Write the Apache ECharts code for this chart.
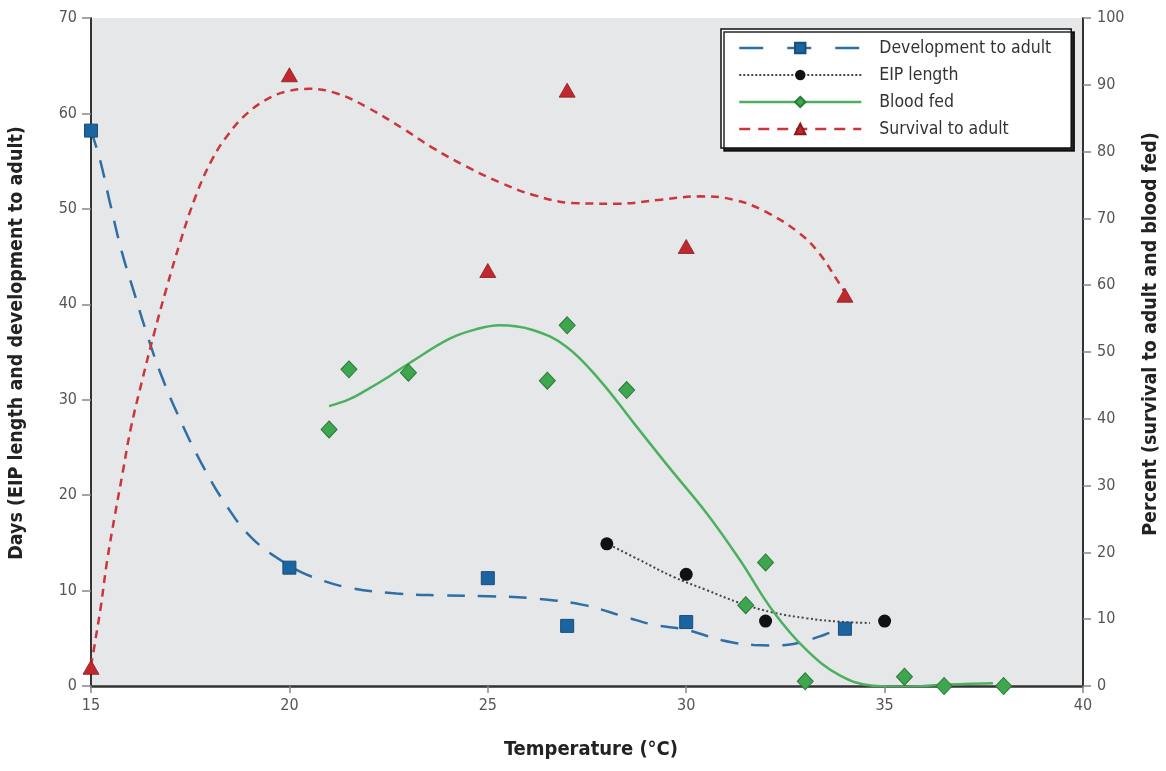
<!DOCTYPE html>
<html>
<head>
<meta charset="utf-8">
<script src="https://cdn.jsdelivr.net/npm/echarts@6/dist/echarts.min.js"></script>
<style>
html,body{margin:0;padding:0;background:#ffffff;}
#chart{width:1166px;height:771px;}
</style>
</head>
<body>
<div id="chart"></div>
<script>
// ---- Data ----
const xTicks = [15, 20, 25, 30, 35, 40];

// Measured points: [temperature °C, value]
const devPoints = [[15, 58.2], [20, 12.4], [25, 11.3], [27, 6.3], [30, 6.7], [34, 6.0]];           // days
const eipPoints = [[28, 14.9], [30, 11.7], [32, 6.8], [35, 6.8]];                                   // days
const bloodPoints = [[21, 38.4], [21.5, 47.4], [23, 46.9], [26.5, 45.7], [27, 54.0], [28.5, 44.3],
                     [31.5, 12.1], [32, 18.5], [33, 0.7], [35.5, 1.4], [36.5, 0], [38, 0]];           // percent
const survPoints = [[15, 2.8], [20, 91.5], [25, 62.2], [27, 89.2], [30, 65.8], [34, 58.5]];         // percent

// Fitted trend curves
const devCurve = [[15.0, 58.2], [15.23, 55.1], [15.48, 50.6], [15.77, 45.6], [16.06, 41.6], [16.4, 37.0],
  [16.74, 32.9], [17.17, 28.6], [17.75, 23.6], [18.43, 18.8], [19.08, 15.4], [20.0, 12.6], [20.6, 11.4],
  [21.5, 10.3], [22.7, 9.7], [23.8, 9.5], [25.0, 9.4], [26.1, 9.2], [27.4, 8.5], [28.5, 7.2], [29.2, 6.4],
  [30.0, 5.9], [30.9, 4.8], [31.7, 4.3], [32.3, 4.25], [32.9, 4.6], [33.5, 5.4], [34.0, 6.2]];
const eipCurve = [[28.06, 14.8], [28.83, 13.2], [29.67, 11.45], [30.51, 10.06], [31.35, 8.7], [32.19, 7.7],
  [33.03, 7.1], [33.87, 6.74], [34.63, 6.6]];
const bloodCurve = [[21.0, 41.9], [21.5, 42.9], [21.94, 44.3], [22.5, 46.3], [23.04, 48.4], [24.04, 52.0],
  [24.7, 53.4], [25.3, 54.0], [26.13, 53.3], [26.98, 50.8], [27.82, 45.8], [28.7, 39.2], [29.6, 32.5],
  [30.51, 25.9], [31.35, 18.9], [32.19, 11.2], [33.03, 5.4], [33.87, 1.6], [34.71, 0.05], [35.55, -0.1],
  [36.39, 0.15], [37.0, 0.3], [37.73, 0.4]];
const survCurve = [[15.0, 3.0], [15.1, 6.5], [15.25, 12], [15.4, 18.5], [15.6, 25.5], [15.8, 32], [16.0, 38.5],
  [16.3, 46], [16.6, 53], [16.9, 59.5], [17.25, 66.5], [17.65, 73.5], [18.05, 78.8], [18.45, 82.5],
  [18.95, 85.8], [19.55, 88.2], [20.0, 89.1], [20.5, 89.4], [21.2, 88.7], [22.0, 86.5], [22.9, 83.3],
  [23.6, 80.6], [24.45, 77.8], [25.3, 75.4], [26.15, 73.5], [27.15, 72.3], [28.25, 72.2], [29.35, 72.8],
  [30.35, 73.3], [31.2, 72.8], [32.0, 71.0], [32.85, 67.8], [33.35, 64.8], [33.8, 60.8], [34.05, 58.5]];

const names = ['Development to adult', 'EIP length', 'Blood fed', 'Survival to adult'];

// ---- Styles ----
const FONT = '"DejaVu Sans Condensed", "Liberation Sans Narrow", "Liberation Sans", Arial, sans-serif';
const BLUE = '#2f6fa6', BLUE_FILL = '#1c64a0';
const RED = '#c9363c', RED_FILL = '#c0282e';
const GREEN = '#4cb060', GREEN_FILL = '#3ea64f';
const BLACK = '#111111';

const chart = echarts.init(document.getElementById('chart'), null, {renderer: 'canvas'});

const labelStyle = {color: '#555', fontSize: 16, fontFamily: FONT};
const nameStyle = {color: '#222', fontSize: 19.5, fontWeight: 'bold', fontFamily: FONT};

chart.setOption({
  backgroundColor: '#ffffff',
  animation: false,
  grid: {left: 91, right: 83, top: 18, bottom: 85, containLabel: false, outerBoundsMode: 'none',
         show: true, backgroundColor: '#e6e7e9', borderWidth: 0},
  legend: {
    orient: 'vertical', left: 721, top: 29,
    itemWidth: 122, itemHeight: 13, itemGap: 9,
    padding: [10, 20, 10, 17],
    backgroundColor: '#ffffff', borderColor: '#111', borderWidth: 1.5,
    shadowColor: 'rgba(0,0,0,0.85)', shadowBlur: 0, shadowOffsetX: 3, shadowOffsetY: 3,
    textStyle: {color: '#333', fontSize: 17.5, fontFamily: FONT, padding: [0, 0, 0, 13]},
    data: [
      {name: names[0], lineStyle: {type: [24, 24], width: 2.5}},
      {name: names[1], lineStyle: {type: [2, 2], width: 2}},
      {name: names[2], lineStyle: {type: 'solid', width: 2.5}},
      {name: names[3], lineStyle: {type: [11, 8], width: 2.5}}
    ]
  },
  xAxis: {
    type: 'value', min: 15, max: 40, interval: 5,
    name: 'Temperature (°C)', nameLocation: 'middle', nameGap: 54,
    nameTextStyle: Object.assign({}, nameStyle, {fontSize: 20, padding: [0, 0, 0, 8]}),
    axisLine: {show: true, onZero: false, lineStyle: {color: '#333', width: 2.5}},
    axisTick: {show: true, length: 7, lineStyle: {color: '#888', width: 1.5}},
    axisLabel: Object.assign({margin: 12, formatter: v => xTicks.includes(v) ? String(v) : ''}, labelStyle),
    splitLine: {show: false}
  },
  yAxis: [
    {
      type: 'value', min: 0, max: 70, interval: 10, position: 'left',
      name: 'Days (EIP length and development to adult)', nameLocation: 'middle', nameGap: 64,
      nameRotate: 90, nameTextStyle: Object.assign({}, nameStyle, {padding: [0, 0, 0, 18]}),
      axisLine: {show: true, lineStyle: {color: '#333', width: 2}},
      axisTick: {show: true, length: 9, lineStyle: {color: '#888', width: 1.5}},
      axisLabel: Object.assign({margin: 14}, labelStyle),
      splitLine: {show: false}
    },
    {
      type: 'value', min: 0, max: 100, interval: 10, position: 'right',
      name: 'Percent (survival to adult and blood fed)', nameLocation: 'middle', nameGap: 58,
      nameRotate: 90, nameTextStyle: Object.assign({}, nameStyle, {padding: [0, 0, 0, 36]}),
      axisLine: {show: true, lineStyle: {color: '#333', width: 2}},
      axisTick: {show: true, length: 8, lineStyle: {color: '#888', width: 1.5}},
      axisLabel: Object.assign({margin: 14}, labelStyle),
      splitLine: {show: false}
    }
  ],
  series: [
    // Trend curves (also supply legend icons)
    {name: names[0], type: 'line', yAxisIndex: 0, data: devCurve, smooth: 0.4, showSymbol: false,
     symbol: 'rect', symbolSize: 11,
     lineStyle: {color: BLUE, width: 2.5, type: [18, 13]},
     itemStyle: {color: BLUE_FILL, borderColor: '#1a4d7a', borderWidth: 1}, z: 2},
    {name: names[1], type: 'line', yAxisIndex: 0, data: eipCurve, smooth: 0.4, showSymbol: false,
     symbol: 'circle', symbolSize: 11,
     lineStyle: {color: '#444', width: 2, type: [2, 2.5]},
     itemStyle: {color: BLACK}, z: 2},
    {name: names[2], type: 'line', yAxisIndex: 1, data: bloodCurve, smooth: 0.4, showSymbol: false,
     symbol: 'diamond', symbolSize: 13,
     lineStyle: {color: GREEN, width: 2.5, type: 'solid'},
     itemStyle: {color: GREEN_FILL, borderColor: '#2a7a38', borderWidth: 1}, z: 2},
    {name: names[3], type: 'line', yAxisIndex: 1, data: survCurve, smooth: 0.4, showSymbol: false,
     symbol: 'triangle', symbolSize: 12,
     lineStyle: {color: RED, width: 2.5, type: [8, 6]},
     itemStyle: {color: RED_FILL, borderColor: '#8a1a1e', borderWidth: 0.8}, z: 2},
    // Measured points
    {name: 'dev-pts', type: 'scatter', yAxisIndex: 0, data: devPoints, symbol: 'rect', symbolSize: 13,
     itemStyle: {color: BLUE_FILL, borderColor: '#1a4d7a', borderWidth: 1, opacity: 1}, z: 5},
    {name: 'eip-pts', type: 'scatter', yAxisIndex: 0, data: eipPoints, symbol: 'circle', symbolSize: 13,
     itemStyle: {color: BLACK, opacity: 1}, z: 5},
    {name: 'blood-pts', type: 'scatter', yAxisIndex: 1, data: bloodPoints, symbol: 'diamond', symbolSize: [16, 17],
     itemStyle: {color: GREEN_FILL, borderColor: '#2a7a38', borderWidth: 1, opacity: 1}, z: 5},
    {name: 'surv-pts', type: 'scatter', yAxisIndex: 1, data: survPoints, symbol: 'triangle', symbolSize: [16, 14],
     itemStyle: {color: RED_FILL, borderColor: '#8a1a1e', borderWidth: 0.8, opacity: 1}, z: 5}
  ]
});
</script>
</body>
</html>
